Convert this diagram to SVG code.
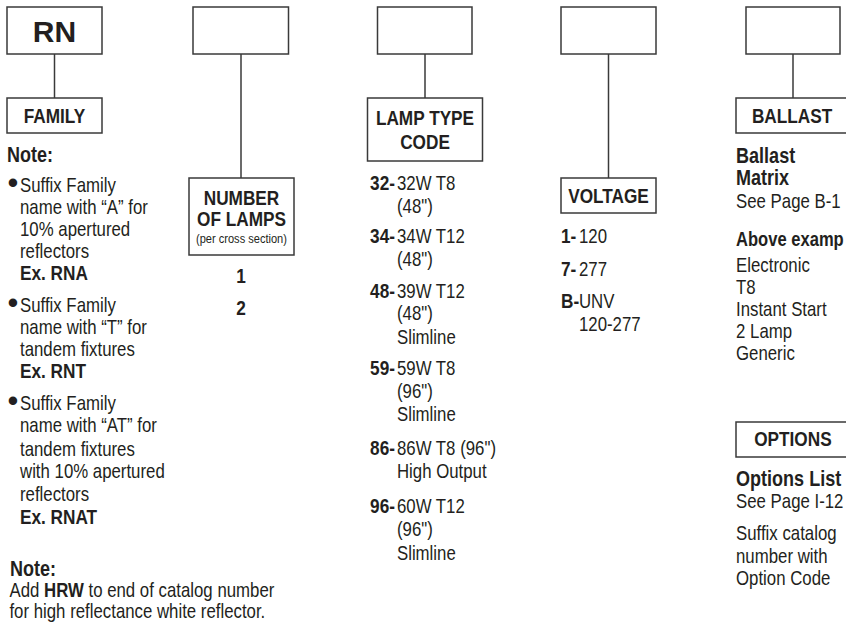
<svg xmlns="http://www.w3.org/2000/svg" width="846" height="624" viewBox="0 0 846 624">
<style>
.box{fill:#fff;stroke:#3a3a3a;stroke-width:1.5}
.conn{stroke:#3a3a3a;stroke-width:1.5;fill:none}
text{font-family:"Liberation Sans",Arial,sans-serif;fill:#231f20;font-size:20.5px}
.b{font-weight:bold}
.x{font-weight:bold;font-size:21px}
.h{font-weight:bold;font-size:21px;text-anchor:middle}
.s{font-weight:bold;font-size:22px}
.e{text-anchor:end}
.m{text-anchor:middle}
.sm{font-size:13.5px}
.bul{font-size:31px}
</style>
<rect width="846" height="624" fill="#fff"/>
<g id="connectors">
<line class="conn" x1="54.5" y1="54" x2="54.5" y2="98"/>
<line class="conn" x1="241" y1="54" x2="241" y2="178"/>
<line class="conn" x1="425" y1="54" x2="425" y2="98"/>
<line class="conn" x1="608.5" y1="54" x2="608.5" y2="178"/>
<line class="conn" x1="793" y1="54" x2="793" y2="98"/>
</g>
<g id="rn-box">
<rect class="box" x="7" y="7" width="95" height="47"/>
<text x="54.5" y="42" class="b" style="font-size:30px" text-anchor="middle">RN</text>
</g>
<g id="family">
<rect class="box" x="7" y="98" width="95" height="35"/>
<g transform="scale(0.82 1)">
<text x="66.46" y="123" class="h">FAMILY</text>
<text x="8.54" y="162" class="s">Note:</text>
<text x="24.39" y="192">Suffix Family</text>
<text x="24.39" y="214.5">name with “A” for</text>
<text x="24.39" y="236.5">10% apertured</text>
<text x="24.39" y="258">reflectors</text>
<text x="24.39" y="280" class="x">Ex. RNA</text>
<text x="24.39" y="312">Suffix Family</text>
<text x="24.39" y="334">name with “T” for</text>
<text x="24.39" y="356">tandem fixtures</text>
<text x="24.39" y="378" class="x">Ex. RNT</text>
<text x="24.39" y="410">Suffix Family</text>
<text x="24.39" y="432.5">name with “AT” for</text>
<text x="24.39" y="456">tandem fixtures</text>
<text x="24.39" y="478.5">with 10% apertured</text>
<text x="24.39" y="501">reflectors</text>
<text x="24.39" y="524" class="x">Ex. RNAT</text>
<text x="12.2" y="576" class="s">Note:</text>
<text x="11.5" y="597">Add <tspan class="b">HRW</tspan> to end of catalog number</text>
<text x="11.5" y="618">for high reflectance white reflector.</text>
</g>
<text x="7.5" y="192.5" class="bul">•</text>
<text x="7.5" y="312.5" class="bul">•</text>
<text x="7.5" y="410.5" class="bul">•</text>
</g>
<g id="lamps-box">
<rect class="box" x="193" y="7" width="95.5" height="47"/>
</g>
<g id="number-of-lamps">
<rect class="box" x="189" y="178" width="105" height="77"/>
<g transform="scale(0.82 1)">
<text x="294.5" y="205" class="h">NUMBER</text>
<text x="294.5" y="226.5" class="h">OF LAMPS</text>
<text x="294.5" y="243.5" class="m sm">(per cross section)</text>
<text x="293.9" y="283" class="h">1</text>
<text x="293.9" y="315" class="h">2</text>
</g>
</g>
<g id="lamp-box">
<rect class="box" x="377.5" y="7" width="94.5" height="47"/>
</g>
<g id="lamp-type-code">
<rect class="box" x="367.5" y="98" width="115" height="63"/>
<g transform="scale(0.82 1)">
<text x="518.3" y="125" class="h">LAMP TYPE</text>
<text x="518.3" y="149" class="h">CODE</text>
<text x="481.7" y="190" class="x e">32-</text>
<text x="484.1" y="190">32W T8</text>
<text x="484.1" y="213">(48")</text>
<text x="481.7" y="243" class="x e">34-</text>
<text x="484.1" y="243">34W T12</text>
<text x="484.1" y="266.5">(48")</text>
<text x="481.7" y="298" class="x e">48-</text>
<text x="484.1" y="298">39W T12</text>
<text x="484.1" y="320.5">(48")</text>
<text x="484.1" y="344">Slimline</text>
<text x="481.7" y="375" class="x e">59-</text>
<text x="484.1" y="375">59W T8</text>
<text x="484.1" y="398">(96")</text>
<text x="484.1" y="421">Slimline</text>
<text x="481.7" y="455" class="x e">86-</text>
<text x="484.1" y="455">86W T8 (96")</text>
<text x="484.1" y="478">High Output</text>
<text x="481.7" y="513" class="x e">96-</text>
<text x="484.1" y="513">60W T12</text>
<text x="484.1" y="536.5">(96")</text>
<text x="484.1" y="560">Slimline</text>
</g>
</g>
<g id="voltage-box">
<rect class="box" x="561" y="7" width="95" height="47"/>
</g>
<g id="voltage">
<rect class="box" x="561" y="178" width="95" height="35"/>
<g transform="scale(0.82 1)">
<text x="742.1" y="203" class="h">VOLTAGE</text>
<text x="684.1" y="243" class="x">1-</text>
<text x="706.1" y="243">120</text>
<text x="684.1" y="276" class="x">7-</text>
<text x="706.1" y="276">277</text>
<text x="684.1" y="308" class="x">B-</text>
<text x="706.1" y="308">UNV</text>
<text x="706.1" y="331.5">120-277</text>
</g>
</g>
<g id="ballast-box">
<rect class="box" x="746" y="7" width="94" height="47"/>
</g>
<g id="ballast">
<path class="box" d="M846,98 H736 V133 H846"/>
<g transform="scale(0.82 1)">
<text x="965.9" y="123" class="h">BALLAST</text>
<text x="897.6" y="163" class="s">Ballast</text>
<text x="897.6" y="185" class="s">Matrix</text>
<text x="897.6" y="208">See Page B-1</text>
<text x="897.6" y="246" class="b" style="font-size:20.2px">Above examp</text>
<text x="897.6" y="272">Electronic</text>
<text x="897.6" y="294">T8</text>
<text x="897.6" y="316">Instant Start</text>
<text x="897.6" y="338">2 Lamp</text>
<text x="897.6" y="360">Generic</text>
</g>
</g>
<g id="options">
<path class="box" d="M846,422 H736 V457 H846"/>
<g transform="scale(0.82 1)">
<text x="967" y="446" class="h">OPTIONS</text>
<text x="897.6" y="486" class="s">Options List</text>
<text x="897.6" y="508">See Page I-12</text>
<text x="897.6" y="540">Suffix catalog</text>
<text x="897.6" y="563">number with</text>
<text x="897.6" y="585">Option Code</text>
</g>
</g>
</svg>
